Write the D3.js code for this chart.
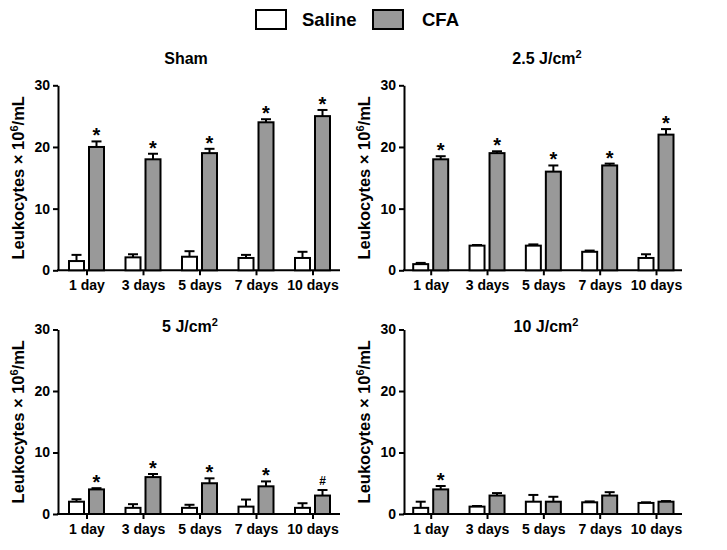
<!DOCTYPE html>
<html>
<head>
<meta charset="utf-8">
<script src="https://cdn.jsdelivr.net/npm/d3@7"></script>
<style>
  html, body { margin: 0; padding: 0; background: #fff; }
  svg { display: block; font-family: "Liberation Sans", Arial, Helvetica, sans-serif; font-weight: bold; }
</style>
</head>
<body>
<svg id="chart" width="727" height="550"></svg>
<script>
// ---- Data ----
const days = ["1 day", "3 days", "5 days", "7 days", "10 days"];
const yTicks = [0, 10, 20, 30];
const seriesNames = ["Saline", "CFA"];

const panelTitles = ["Sham", "2.5 J/cm", "5 J/cm", "10 J/cm"];
const panelTitleSup = ["", "2", "2", "2"];

const shamSaline = [1.5, 2.1, 2.2, 2.0, 2.0];
const shamSalineErr = [1.0, 0.5, 0.9, 0.5, 1.0];
const shamCFA = [20, 18, 19, 24, 25];
const shamCFAErr = [0.9, 0.9, 0.7, 0.5, 1.0];
const shamMarks = ["*", "*", "*", "*", "*"];

const j25Saline = [1.0, 4.0, 4.0, 3.0, 2.0];
const j25SalineErr = [0.2, 0.1, 0.2, 0.2, 0.6];
const j25CFA = [18, 19, 16, 17, 22];
const j25CFAErr = [0.5, 0.3, 1.0, 0.3, 0.9];
const j25Marks = ["*", "*", "*", "*", "*"];

const j5Saline = [2.0, 1.0, 1.0, 1.2, 1.0];
const j5SalineErr = [0.4, 0.6, 0.5, 1.15, 0.75];
const j5CFA = [4.0, 6.0, 5.0, 4.5, 3.0];
const j5CFAErr = [0.2, 0.5, 0.8, 0.8, 0.9];
const j5Marks = ["*", "*", "*", "*", "#"];

const j10Saline = [1.0, 1.2, 2.0, 1.9, 1.8];
const j10SalineErr = [1.0, 0.1, 1.1, 0.15, 0.1];
const j10CFA = [4.0, 3.0, 2.0, 3.0, 2.0];
const j10CFAErr = [0.55, 0.4, 0.8, 0.55, 0.1];
const j10Marks = ["*", "", "", "", ""];

// ---- Layout ----
const fills = { Saline: "#ffffff", CFA: "#999999" };
const panels = [
  { title: panelTitles[0], sup: panelTitleSup[0], sal: shamSaline, salE: shamSalineErr, cfa: shamCFA, cfaE: shamCFAErr, marks: shamMarks,
    axisX: 58, axisEnd: 340, first: 86.5, last: 312.5, y0: 270.3, y30: 85.3, titleX: 186, titleY: 64 },
  { title: panelTitles[1], sup: panelTitleSup[1], sal: j25Saline, salE: j25SalineErr, cfa: j25CFA, cfaE: j25CFAErr, marks: j25Marks,
    axisX: 404, axisEnd: 682, first: 430.7, last: 656, y0: 270.3, y30: 85.3, titleX: 547, titleY: 64 },
  { title: panelTitles[2], sup: panelTitleSup[2], sal: j5Saline, salE: j5SalineErr, cfa: j5CFA, cfaE: j5CFAErr, marks: j5Marks,
    axisX: 58, axisEnd: 340, first: 86.5, last: 312.5, y0: 514, y30: 329.5, titleX: 190, titleY: 332 },
  { title: panelTitles[3], sup: panelTitleSup[3], sal: j10Saline, salE: j10SalineErr, cfa: j10CFA, cfaE: j10CFAErr, marks: j10Marks,
    axisX: 404, axisEnd: 682, first: 430.7, last: 656, y0: 514, y30: 329.5, titleX: 546, titleY: 332 }
];

const svg = d3.select("#chart");

// ---- Legend ----
const legend = svg.append("g");
const legendItems = [
  { name: seriesNames[0], bx: 256, tx: 302 },
  { name: seriesNames[1], bx: 373, tx: 422 }
];
legendItems.forEach(it => {
  legend.append("rect").attr("x", it.bx).attr("y", 10).attr("width", 30).attr("height", 19)
    .attr("fill", fills[it.name]).attr("stroke", "#000").attr("stroke-width", 2);
  legend.append("text").attr("x", it.tx).attr("y", 26).attr("font-size", 18.5).attr("fill", "#000").text(it.name);
});

const barW = 15;
const barOff = 10;

panels.forEach(p => {
  const g = svg.append("g");
  const x = d3.scalePoint().domain(days).range([p.first, p.last]);
  const y = d3.scaleLinear().domain([0, 30]).range([p.y0, p.y30]);

  // Title
  const t = g.append("text").attr("x", p.titleX).attr("y", p.titleY).attr("text-anchor", "middle")
    .attr("font-size", 16).attr("fill", "#000");
  t.append("tspan").text(p.title);
  if (p.sup) t.append("tspan").attr("font-size", 11).attr("dy", -6).text(p.sup);

  // Y axis
  const yAxis = d3.axisLeft(y).tickValues(yTicks).tickSize(5).tickSizeOuter(0).tickPadding(3);
  const ya = g.append("g").attr("transform", `translate(${p.axisX},0)`).call(yAxis);
  ya.select(".domain").attr("stroke-width", 2);
  ya.selectAll(".tick line").attr("stroke-width", 2);
  ya.selectAll(".tick text").attr("font-size", 14).attr("font-weight", "bold").attr("fill", "#000")
    .attr("font-family", "Liberation Sans, Arial, sans-serif");

  // X axis
  const xAxis = d3.axisBottom(x).tickSize(5).tickSizeOuter(0).tickPadding(5);
  const xa = g.append("g").attr("transform", `translate(0,${p.y0})`).call(xAxis);
  xa.select(".domain").remove();
  xa.selectAll(".tick line").attr("stroke-width", 2);
  xa.selectAll(".tick text").attr("font-size", 14).attr("font-weight", "bold").attr("fill", "#000")
    .attr("font-family", "Liberation Sans, Arial, sans-serif");
  g.append("line").attr("x1", p.axisX - 1).attr("x2", p.axisEnd).attr("y1", p.y0).attr("y2", p.y0)
    .attr("stroke", "#000").attr("stroke-width", 2);

  // Y label
  const lx = p.axisX - 34, ly = (p.y0 + p.y30) / 2;
  const yl = g.append("text").attr("transform", `translate(${lx},${ly}) rotate(-90)`)
    .attr("text-anchor", "middle").attr("font-size", 16.5).attr("fill", "#000");
  yl.append("tspan").text("Leukocytes × 10");
  yl.append("tspan").attr("font-size", 11).attr("dy", -6).text("6");
  yl.append("tspan").attr("dy", 6).text("/mL");

  // Bars
  const series = [
    { name: "Saline", vals: p.sal, errs: p.salE, off: -barOff },
    { name: "CFA", vals: p.cfa, errs: p.cfaE, off: barOff }
  ];
  series.forEach(s => {
    days.forEach((d, i) => {
      const cx = x(d) + s.off;
      const v = s.vals[i], e = s.errs[i];
      // error bar (upper only)
      g.append("line").attr("x1", cx).attr("x2", cx).attr("y1", y(v)).attr("y2", y(v + e))
        .attr("stroke", "#000").attr("stroke-width", 2);
      g.append("line").attr("x1", cx - 5).attr("x2", cx + 5).attr("y1", y(v + e)).attr("y2", y(v + e))
        .attr("stroke", "#000").attr("stroke-width", 2);
      g.append("rect").attr("x", cx - barW / 2).attr("y", y(v)).attr("width", barW)
        .attr("height", y(0) - y(v)).attr("fill", fills[s.name]).attr("stroke", "#000").attr("stroke-width", 2);
    });
  });

  // Significance marks
  days.forEach((d, i) => {
    const m = p.marks[i];
    if (!m) return;
    const cx = x(d) + barOff;
    const top = y(p.cfa[i] + p.cfaE[i]);
    if (m === "*") {
      g.append("text").attr("x", cx).attr("y", top + 1).attr("text-anchor", "middle")
        .attr("font-size", 20).attr("fill", "#000").text(m);
    } else {
      g.append("text").attr("x", cx).attr("y", top - 5).attr("text-anchor", "middle")
        .attr("font-size", 12).attr("fill", "#000").text(m);
    }
  });
});
</script>
</body>
</html>
